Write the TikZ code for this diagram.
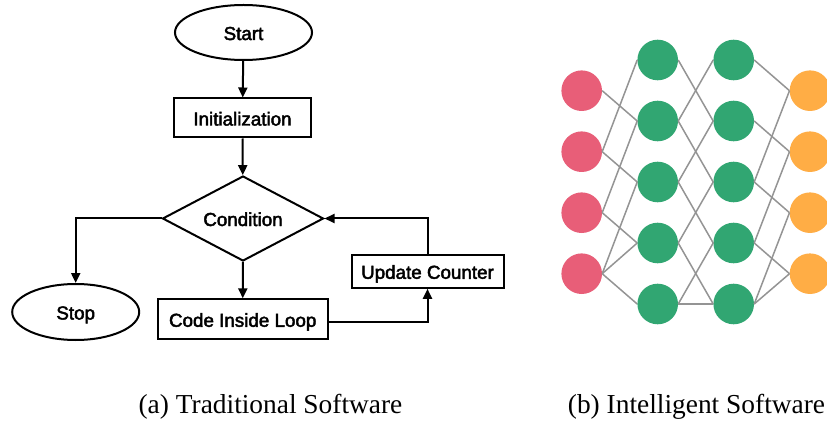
\documentclass[tikz,border=0pt]{standalone}
\usepackage{fontspec}
\setmainfont{Liberation Serif}
\newfontfamily\flowfont{Liberation Sans}[FakeBold=2.4]
\usetikzlibrary{shapes.geometric,arrows.meta}

\definecolor{nnred}{HTML}{E85E78}
\definecolor{nngreen}{HTML}{31A672}
\definecolor{nnorange}{HTML}{FFAD45}
\definecolor{wiregray}{HTML}{949494}

\tikzset{
  flow/.style={draw, line width=2pt, inner sep=0pt,
    text height=15pt, text depth=0pt,
    font=\flowfont\fontsize{18.8}{20}\selectfont},
  term/.style={flow, ellipse},
  proc/.style={flow, rectangle},
  decision/.style={flow, diamond, aspect=1.9},
  link/.style={line width=2pt, -{Triangle[length=10pt,width=9pt]}},
  neuron/.style={circle, minimum size=40.6pt, inner sep=0pt},
  wire/.style={draw=wiregray, line width=1.5pt},
  caption/.style={font=\fontsize{27.4}{30}\selectfont, anchor=base, inner sep=0pt}
}

\begin{document}
\begin{tikzpicture}[x=1pt, y=-1pt]
  \clip (0,0) rectangle (827,422);
  \fill[white] (0,0) rectangle (827,422);

  % ---------- flowchart of a counted loop ----------
  \node[term, minimum width=137pt, minimum height=55pt] (start) at (243.5,32.5) {Start};
  \node[proc, minimum width=137pt, minimum height=39pt] (init) at (242.5,118) {Initialization};
  \node[decision, minimum width=161pt, minimum height=85pt] (cond) at (243,218.5) {Condition};
  \node[term, minimum width=127pt, minimum height=56pt] (stop) at (75.7,312) {Stop};
  \node[proc, minimum width=170pt, minimum height=40pt] (code) at (242.7,319.3) {Code Inside Loop};
  \node[proc, minimum width=152pt, minimum height=33pt] (upd) at (427.5,271.3) {Update Counter};

  \draw[link] (start) -- (init);
  \draw[link] (init) -- (cond);
  \draw[link] (cond.west) -| (stop.north);
  \draw[link] (cond) -- (code);
  \draw[link] ([yshift=-3pt]code.east) -| (upd.south);
  \draw[link] (upd.north) |- (cond.east);

  % ---------- small feed-forward network ----------
  \foreach \i/\y in {1/90.7, 2/151.7, 3/212.7, 4/273.7} {
    \node[neuron, fill=nnred] (r\i) at (581.7,\y) {};
    \node[neuron, fill=nnorange] (o\i) at (810,\y) {};
  }
  \foreach \i/\y in {1/60, 2/121, 3/182, 4/243, 5/304} {
    \node[neuron, fill=nngreen] (g\i) at (657.7,\y) {};
    \node[neuron, fill=nngreen] (h\i) at (733.7,\y) {};
  }

  % input layer to first hidden layer
  \foreach \a/\b in {r1/g2, r2/g1, r2/g3, r3/g2, r3/g4, r4/g3, r4/g4, r4/g5}
    \draw[wire] (\a.east) -- (\b.west);
  % first hidden layer to second hidden layer
  \foreach \a/\b in {g1/h2, g2/h1, g2/h3, g3/h2, g3/h4, g4/h3, g4/h5, g5/h4, g5/h5}
    \draw[wire] (\a.east) -- (\b.west);
  % second hidden layer to output layer
  \foreach \a/\b in {h1/o1, h2/o2, h3/o1, h3/o3, h4/o2, h4/o4, h5/o3, h5/o4}
    \draw[wire] (\a.east) -- (\b.west);

  % ---------- captions ----------
  \node[caption] (capa) at (270.5,413) {(a) Traditional Software};
  \node[caption] (capb) at (696.5,413) {(b) Intelligent Software};
\end{tikzpicture}
\end{document}
